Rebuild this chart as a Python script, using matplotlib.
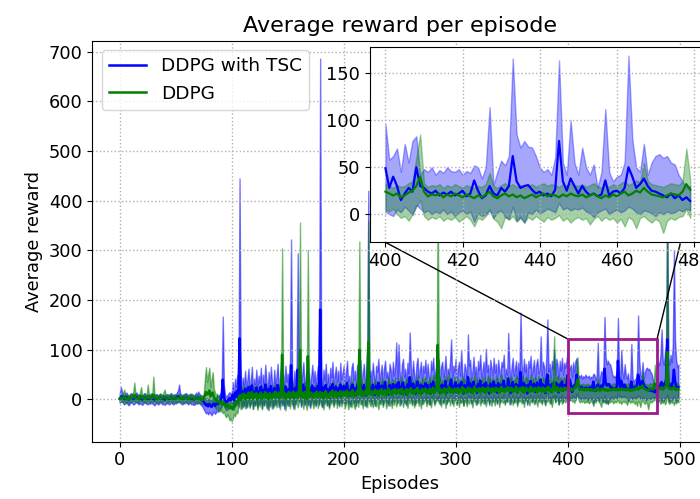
"""Average reward per episode, DDPG with and without TSC, with a zoomed inset."""

import matplotlib

matplotlib.use("Agg")
import matplotlib.pyplot as plt
import numpy as np
from matplotlib.patches import ConnectionPatch, Rectangle

# per-episode statistics (episodes 0..499)
blue_mean = [
    2, 4, 6, 3, 1, 3, 5, 2, 0, 2, 4, 3, 1, 2, 4, 5, 2, 1, 3, 2, 0, 2, 4, 3, 2,
    1, 3, 2, 4, 2, 1, 0, 2, 3, 1, 2, 4, 3, 1, 2, 0, 1, 3, 2, 1, 2, 4, 2, 1, 3,
    2, 4, 6, 5, 3, 2, 1, 3, 2, 4, 3, 1, 2, 3, 1, 2, 0, 1, 3, 2, 4, 2, 1, 0, -2,
    -5, -8, -12, -10, -14, -9, -12, -15, -11, -8, -13, -10, -6, -9, -4, -2, 5, 40, 8, -3, -6, -4, 0, 3, -2,
    2, 10, -2, 14, 6, 18, 4, 123, 20, 3, 16, 8, 22, 5, 14, 25, 7, 12, 28, 4, 15, 9, 24, 6, 17,
    11, 26, 5, 19, 9, 30, 13, 4, 21, 8, 27, 12, 6, 23, 10, 17, 29, 7, 14, 24, 9, 18, 5, 26, 12,
    20, 8, 25, 69, 15, 5, 22, 11, 28, 60, 16, 24, 7, 19, 30, 10, 14, 26, 9, 21, 6, 17, 28, 12, 23,
    8, 19, 27, 11, 181, 15, 6, 24, 13, 29, 10, 20, 7, 25, 16, 31, 9, 18, 26, 12, 22, 8, 30, 14, 19,
    27, 10, 21, 33, 12, 18, 8, 25, 30, 14, 22, 9, 28, 16, 24, 32, 11, 20, 29, 13, 8, 26, 100, 17, 23,
    12, 30, 19, 9, 27, 22, 34, 14, 20, 28, 11, 25, 35, 16, 21, 10, 29, 24, 13, 31, 18, 26, 30, 15, 35,
    22, 12, 28, 34, 17, 24, 10, 30, 20, 45, 26, 14, 32, 19, 11, 28, 36, 16, 23, 30, 13, 27, 21, 33, 15,
    29, 18, 12, 31, 24, 36, 15, 22, 28, 19, 33, 13, 26, 30, 17, 23, 37, 14, 25, 20, 31, 40, 16, 27, 22,
    34, 14, 25, 30, 18, 35, 21, 12, 29, 24, 16, 45, 27, 33, 15, 22, 36, 19, 26, 13, 31, 24, 38, 17, 23,
    30, 15, 34, 21, 27, 12, 32, 25, 18, 36, 20, 28, 14, 33, 23, 17, 30, 26, 38, 16, 24, 19, 42, 28, 13,
    26, 35, 18, 24, 31, 14, 29, 22, 55, 27, 16, 33, 21, 28, 12, 30, 25, 37, 18, 24, 32, 15, 27, 34, 20,
    23, 40, 17, 30, 26, 13, 35, 50, 22, 28, 16, 31, 24, 35, 19, 33, 27, 14, 30, 22, 36, 18, 29, 25, 30,
    49, 28, 40, 30, 15, 22, 28, 24, 50, 30, 28, 24, 22, 25, 20, 23, 21, 24, 20, 22, 25, 19, 22, 36, 25,
    17, 20, 30, 22, 20, 28, 24, 30, 62, 35, 28, 30, 31, 26, 22, 24, 20, 22, 19, 26, 78, 35, 25, 38, 30,
    22, 30, 24, 20, 22, 19, 21, 36, 20, 24, 25, 22, 28, 50, 40, 28, 32, 38, 30, 25, 24, 22, 20, 18, 22,
    17, 20, 15, 18, 14, 22, 26, 24, 28, 35, 30, 26, 32, 40, 121, 28, 24, 30, 26, 35, 60, 38, 26, 22, 25,
]
blue_high = [
    12, 25, 16, 10, 8, 12, 14, 9, 8, 10, 13, 11, 8, 9, 12, 14, 10, 8, 11, 9, 7, 10, 13, 11, 9,
    8, 11, 9, 12, 10, 8, 7, 10, 11, 8, 9, 12, 10, 8, 9, 7, 9, 11, 10, 8, 10, 13, 9, 8, 11,
    10, 14, 18, 30, 12, 9, 8, 11, 10, 13, 11, 8, 10, 12, 9, 10, 8, 9, 14, 10, 16, 12, 9, 8, 6,
    4, 2, 0, 3, -2, 2, 0, -3, 1, 4, 0, 3, 8, 5, 10, 12, 20, 167, 30, 10, 6, 8, 12, 15, 10,
    14, 35, 10, 42, 25, 50, 20, 445, 55, 18, 44, 28, 58, 22, 40, 62, 25, 36, 66, 20, 42, 30, 60, 24, 48,
    32, 64, 22, 50, 30, 70, 38, 18, 56, 28, 66, 34, 24, 60, 30, 46, 72, 26, 42, 62, 30, 50, 20, 68, 36,
    52, 28, 62, 322, 44, 20, 58, 34, 70, 294, 46, 60, 25, 50, 75, 32, 40, 64, 30, 54, 22, 46, 70, 34, 58,
    28, 50, 68, 32, 686, 42, 22, 60, 38, 72, 30, 52, 26, 64, 44, 76, 30, 48, 66, 36, 58, 28, 74, 40, 52,
    68, 32, 54, 78, 36, 48, 28, 64, 74, 40, 58, 30, 70, 44, 62, 80, 34, 52, 72, 38, 28, 66, 420, 46, 58,
    36, 74, 50, 30, 68, 56, 82, 40, 52, 70, 34, 62, 78, 44, 56, 32, 72, 60, 38, 76, 48, 66, 115, 42, 111,
    56, 36, 70, 82, 46, 62, 32, 74, 52, 135, 66, 40, 78, 50, 34, 70, 84, 44, 58, 76, 38, 68, 54, 80, 42,
    72, 48, 34, 78, 60, 84, 42, 56, 70, 50, 80, 38, 66, 76, 46, 60, 88, 40, 62, 52, 76, 121, 44, 68, 56,
    82, 40, 62, 76, 48, 100, 54, 34, 72, 60, 44, 131, 68, 80, 42, 56, 86, 50, 66, 38, 78, 60, 90, 46, 58,
    76, 42, 102, 56, 70, 36, 80, 64, 48, 84, 54, 72, 40, 80, 60, 46, 76, 66, 90, 44, 62, 50, 134, 70, 38,
    66, 84, 48, 62, 78, 42, 74, 56, 175, 70, 44, 82, 56, 72, 36, 78, 64, 88, 48, 62, 80, 42, 70, 82, 52,
    60, 127, 48, 76, 66, 38, 86, 161, 56, 72, 44, 78, 62, 100, 50, 82, 70, 42, 78, 58, 84, 50, 74, 64, 78,
    96, 58, 62, 70, 45, 75, 55, 78, 83, 42, 48, 45, 50, 42, 47, 44, 50, 46, 45, 48, 42, 46, 44, 52, 50,
    38, 50, 114, 31, 45, 57, 52, 62, 166, 85, 71, 78, 72, 71, 62, 50, 45, 48, 42, 60, 164, 55, 42, 100, 55,
    42, 71, 50, 42, 53, 28, 45, 112, 45, 35, 40, 42, 55, 169, 80, 50, 45, 75, 42, 55, 62, 64, 60, 62, 55,
    53, 42, 35, 28, 30, 60, 75, 70, 90, 141, 80, 70, 95, 110, 400, 85, 70, 90, 75, 110, 300, 120, 80, 65, 70,
]
blue_low = [
    -6, -4, -3, -8, -10, -7, -5, -9, -12, -8, -6, -7, -10, -9, -6, -5, -8, -10, -7, -9, -11, -8, -6, -7, -9,
    -10, -7, -9, -6, -8, -10, -12, -8, -7, -10, -9, -6, -7, -10, -8, -11, -9, -7, -8, -10, -8, -6, -9, -10, -7,
    -8, -6, -4, -5, -7, -9, -10, -7, -8, -6, -7, -10, -8, -7, -10, -9, -11, -10, -7, -9, -6, -8, -10, -12, -15,
    -20, -24, -28, -26, -30, -25, -28, -32, -27, -24, -29, -26, -22, -25, -20, -18, -14, -8, -12, -18, -22, -20, -16, -13, -18,
    -14, -4, -20, -2, -12, 0, -16, -2, 2, -18, -3, -13, 1, -17, -6, 3, -14, -8, 4, -19, -5, -11, 2, -16, -3,
    -9, 3, -18, -1, -12, 5, -7, -20, -2, -14, 4, -8, -17, 0, -11, -4, 6, -15, -7, 2, -12, -2, -19, 4, -9,
    -1, -13, 3, 0, -5, -18, 0, -10, 5, 2, -4, 1, -15, -2, 7, -11, -6, 3, -12, -1, -17, -5, 6, -9, 0,
    -14, -3, 5, -10, 3, -6, -16, 2, -8, 6, -11, -1, -15, 3, -5, 7, -12, -3, 4, -9, 0, -14, 6, -7, -2,
    5, -11, -1, 8, -9, -3, -14, 2, 7, -8, 0, -13, 5, -6, 1, 9, -10, -2, 6, -7, -14, 3, 2, -4, 0,
    -9, 7, -3, -13, 4, 0, 9, -8, -2, 6, -11, 2, 10, -6, -1, -12, 6, 1, -9, 8, -4, 3, 5, -7, 8,
    0, -10, 4, 9, -5, 1, -12, 6, -2, 8, 3, -8, 7, -4, -11, 5, 10, -6, 0, 7, -9, 4, -2, 8, -7,
    6, -4, -11, 7, 1, 10, -8, -1, 5, -3, 8, -10, 3, 6, -6, 0, 11, -9, 2, -2, 7, 9, -7, 4, -1,
    9, -9, 2, 6, -5, 8, -1, -12, 5, 1, -7, 10, 3, 8, -8, -1, 10, -4, 3, -10, 7, 0, 11, -6, 0,
    6, -8, 9, -2, 4, -11, 7, 1, -5, 10, -3, 5, -9, 8, 0, -6, 6, 2, 11, -7, 1, -4, 12, 4, -10,
    3, 9, -6, 1, 7, -9, 5, -2, 12, 4, -7, 8, -2, 5, -11, 6, 2, 10, -6, 1, 8, -8, 4, 9, -3,
    0, 12, -7, 6, 3, -10, 9, 14, -1, 5, -8, 7, 1, 9, -5, 8, 4, -9, 6, -2, 10, -6, 5, 2, 6,
    3, 0, -2, 5, 2, 8, 4, -1, 10, 6, 2, 4, 0, 3, 1, 5, 0, 3, -2, 2, 4, 0, 3, -8, 1,
    -2, 0, 5, -4, 2, 4, -3, -5, 8, -7, -3, -9, 2, 0, 5, 1, 3, 6, 4, 2, 12, 5, 7, 4, 6,
    5, 7, 3, 1, -3, 2, 4, 6, 0, 3, 5, 2, 4, 8, 6, 2, 0, 4, 3, 1, -2, 2, 0, 3, 1,
    2, 5, 3, 6, 4, 2, -2, 0, 3, -4, 1, -3, 2, 5, 8, 0, -5, 2, -2, 3, 6, 0, -4, -2, 1,
]

green_mean = [
    1, 3, 2, 4, 6, 2, 0, 3, 1, 2, 4, 3, 5, 9, 4, 2, 3, 1, 5, 7, 3, 2, 4, 1, 3,
    6, 3, 2, 4, 3, 10, 4, 2, 3, 1, 2, 4, 3, 2, 5, 6, 3, 1, 2, 3, 4, 2, 1, 3, 2,
    1, 3, 2, 4, 2, 3, 1, 2, 4, 3, 2, 1, 3, 2, 4, 3, 2, 1, 2, 3, 1, 2, 0, 1, -1,
    2, 8, 15, 10, 12, 18, 6, 10, 14, 5, 2, -4, 0, -6, -3, -8, -5, -10, -6, -12, -15, -10, -13, -18, -14,
    -16, -20, -10, -14, -4, -8, 2, 8, -2, 10, 4, 12, 0, 9, 3, 14, 2, 8, 15, 1, 11, 5, 13, 0, 9,
    4, 14, 1, 10, 6, 15, 3, 11, 0, 13, 7, 2, 12, 5, 16, 4, 9, 14, 2, 10, 90, 6, 13, 1, 11,
    5, 15, 3, 12, 7, 16, 2, 10, 14, 4, 11, 100, 6, 13, 3, 15, 8, 1, 87, 12, 5, 14, 9, 3, 13,
    7, 16, 4, 11, 15, 5, 13, 2, 12, 17, 6, 10, 3, 14, 8, 18, 5, 11, 16, 4, 13, 9, 17, 6, 12,
    16, 7, 13, 18, 5, 12, 15, 8, 19, 10, 6, 14, 17, 9, 100, 12, 18, 7, 15, 11, 20, 8, 115, 14, 10,
    17, 9, 14, 20, 11, 16, 7, 18, 13, 21, 10, 15, 19, 8, 14, 22, 12, 17, 9, 19, 13, 21, 11, 16, 20,
    12, 18, 22, 10, 17, 14, 21, 9, 19, 15, 23, 12, 18, 11, 20, 16, 24, 13, 17, 10, 21, 15, 19, 22, 12,
    18, 14, 22, 11, 19, 24, 13, 17, 20, 110, 15, 22, 12, 19, 16, 23, 11, 20, 18, 25, 14, 21, 17, 13, 22,
    19, 15, 23, 12, 20, 17, 25, 14, 21, 18, 13, 24, 16, 22, 19, 12, 21, 26, 15, 20, 17, 23, 14, 19, 24,
    16, 22, 13, 20, 25, 17, 21, 14, 23, 19, 15, 24, 18, 21, 13, 22, 26, 17, 20, 15, 23, 19, 25, 16, 21,
    24, 15, 20, 18, 26, 14, 22, 19, 23, 17, 25, 13, 21, 24, 18, 20, 15, 26, 19, 22, 16, 23, 20, 14, 25,
    18, 22, 16, 24, 20, 15, 23, 19, 26, 17, 21, 14, 24, 35, 18, 22, 25, 16, 20, 23, 17, 21, 24, 19, 22,
    24, 22, 20, 22, 18, 20, 23, 25, 30, 40, 24, 19, 21, 20, 22, 18, 21, 19, 22, 20, 18, 21, 19, 17, 20,
    18, 21, 24, 19, 17, 20, 22, 19, 21, 18, 20, 17, 19, 21, 18, 20, 22, 19, 21, 20, 18, 21, 19, 22, 20,
    19, 21, 18, 20, 22, 19, 17, 20, 18, 21, 19, 22, 24, 20, 22, 25, 23, 28, 24, 21, 20, 19, 18, 20, 22,
    21, 20, 24, 32, 26, 22, 20, 24, 21, 23, 20, 22, 25, 28, 95, 24, 21, 23, 20, 22, 25, 21, 19, 22, 20,
]
green_high = [
    8, 10, 9, 12, 20, 9, 7, 10, 8, 9, 12, 10, 14, 34, 12, 9, 10, 8, 14, 25, 10, 9, 12, 8, 10,
    30, 10, 9, 12, 10, 46, 12, 9, 10, 8, 9, 12, 10, 9, 14, 20, 10, 8, 9, 10, 12, 9, 8, 10, 9,
    8, 10, 9, 12, 9, 10, 8, 9, 12, 10, 9, 8, 10, 9, 12, 10, 9, 8, 9, 10, 8, 9, 7, 8, 6,
    12, 40, 65, 35, 50, 64, 25, 40, 55, 22, 15, 8, 12, 5, 8, 2, 5, 0, 4, -2, -5, 0, -3, -8, -4,
    -6, -8, 2, -2, 8, 4, 14, 22, 10, 25, 16, 28, 12, 24, 15, 30, 14, 22, 32, 12, 26, 18, 30, 12, 24,
    16, 30, 12, 25, 18, 32, 15, 26, 12, 30, 20, 14, 28, 17, 34, 16, 24, 30, 14, 26, 304, 18, 30, 13, 27,
    17, 32, 15, 28, 20, 34, 14, 26, 31, 16, 27, 356, 18, 30, 15, 33, 21, 13, 301, 28, 17, 31, 23, 15, 30,
    20, 34, 16, 27, 33, 17, 30, 14, 28, 36, 18, 26, 15, 32, 21, 38, 17, 27, 35, 16, 30, 22, 37, 18, 28,
    35, 20, 30, 38, 17, 29, 34, 21, 40, 24, 18, 32, 37, 22, 318, 28, 39, 20, 34, 26, 42, 21, 360, 31, 24,
    36, 22, 31, 42, 25, 35, 19, 38, 29, 44, 24, 33, 40, 21, 31, 46, 27, 37, 22, 40, 29, 45, 25, 35, 42,
    27, 38, 46, 24, 36, 31, 45, 22, 40, 33, 48, 27, 38, 25, 42, 35, 50, 29, 37, 24, 44, 33, 40, 46, 27,
    38, 31, 46, 25, 40, 50, 29, 36, 42, 420, 33, 46, 27, 40, 35, 48, 25, 42, 38, 52, 31, 44, 36, 29, 46,
    38, 30, 44, 26, 40, 34, 48, 28, 42, 36, 27, 46, 32, 43, 38, 25, 42, 50, 30, 40, 34, 45, 28, 38, 46,
    32, 43, 27, 40, 48, 34, 42, 28, 45, 38, 30, 46, 35, 42, 26, 44, 50, 34, 40, 30, 45, 38, 48, 32, 42,
    46, 30, 40, 36, 50, 28, 44, 38, 45, 34, 48, 26, 42, 46, 36, 40, 30, 50, 38, 44, 32, 45, 40, 28, 48,
    36, 44, 32, 46, 40, 30, 45, 38, 50, 34, 42, 28, 46, 127, 36, 44, 48, 32, 40, 45, 34, 42, 46, 38, 44,
    32, 30, 28, 31, 29, 30, 33, 35, 60, 85, 33, 29, 31, 30, 32, 28, 31, 29, 32, 30, 28, 31, 29, 28, 30,
    29, 32, 44, 30, 28, 31, 33, 30, 32, 29, 31, 28, 30, 32, 29, 31, 33, 30, 32, 31, 29, 32, 30, 33, 31,
    30, 32, 29, 31, 33, 30, 28, 31, 29, 32, 30, 33, 35, 31, 33, 36, 34, 55, 35, 32, 31, 30, 29, 31, 33,
    32, 31, 35, 70, 38, 34, 31, 36, 33, 35, 31, 34, 38, 42, 380, 36, 33, 35, 31, 34, 38, 33, 30, 34, 31,
]
green_low = [
    -6, -4, -5, -3, -2, -6, -8, -4, -7, -5, -3, -4, -2, -3, -4, -6, -5, -7, -3, -2, -4, -6, -3, -7, -5,
    -2, -4, -6, -3, -5, -4, -3, -6, -4, -7, -6, -3, -4, -6, -3, -2, -4, -7, -6, -4, -3, -5, -7, -4, -6,
    -7, -4, -6, -3, -5, -4, -7, -6, -3, -4, -6, -7, -4, -6, -3, -4, -6, -8, -5, -4, -7, -5, -8, -9, -10,
    -8, -10, -6, -12, -8, -4, -14, -10, -6, -12, -16, -20, -14, -22, -18, -25, -20, -28, -24, -32, -36, -30, -34, -42, -38,
    -44, -38, -30, -34, -24, -28, -14, -8, -20, -6, -16, -4, -18, -7, -15, -2, -17, -9, 0, -19, -5, -13, -1, -21, -8,
    -14, 0, -20, -6, -12, 1, -17, -5, -22, -3, -10, -19, -2, -14, 3, -16, -7, -1, -20, -6, 8, -11, -1, -22, -7,
    -13, 2, -18, -3, -10, 3, -20, -6, -1, -16, -5, 5, -12, -2, -19, 0, -9, -21, 6, -4, -15, 1, -8, -18, -2,
    -11, 2, -17, -6, 1, -14, -3, -20, -5, 3, -13, -7, -19, 0, -10, 4, -15, -6, 2, -17, -4, -11, 4, -14, -5,
    -6, -18, -9, -2, -20, -11, -5, -16, -1, -13, -19, -7, -3, -15, 2, -10, -1, -18, -6, -13, 0, -16, 4, -8, -14,
    -4, -16, -8, 0, -14, -5, -20, -3, -10, 1, -15, -6, -1, -18, -8, 2, -13, -4, -17, -1, -11, 0, -14, -6, -1,
    -13, -3, 1, -15, -4, -9, 0, -17, -2, -8, 2, -12, -4, -16, -1, -7, 2, -13, -5, -18, -1, -9, -3, 1, -14,
    -3, -10, 0, -16, -2, 2, -12, -6, -1, 6, -8, 0, -14, -3, -8, 1, -17, -2, -5, 3, -12, -1, -7, -13, 0,
    -4, -11, 1, -15, -2, -7, 2, -13, -1, -5, -14, 0, -9, -1, -4, -16, -1, 3, -11, -3, -7, 0, -12, -4, 1,
    -9, 0, -14, -3, 2, -8, -1, -13, 0, -4, -12, 1, -6, -1, -15, 0, 3, -7, -3, -11, 0, -5, 2, -10, -2,
    1, -11, -3, -6, 3, -14, -1, -5, 0, -8, 2, -15, -2, 1, -7, -3, -12, 3, -4, -1, -10, 0, -3, -14, 2,
    -6, -1, -10, 0, -3, -12, -1, -5, 3, -9, -2, -15, 0, 10, -6, -1, 1, -11, -4, 0, -9, -2, 0, -6, -1,
    5, 3, 6, 0, -4, -2, -7, 0, 8, 15, -2, -6, -3, -5, -2, -7, -4, -6, -3, -8, -5, -2, -6, -13, -4,
    -6, -2, 4, -5, -8, -15, -3, -6, -2, -8, -4, -9, -3, -6, -2, -5, -8, -3, -6, -4, -1, -7, -4, -9, -5,
    -3, -6, -4, -11, -5, -2, -7, -3, -6, -4, -9, -5, -13, -3, -6, -15, -4, -2, -6, -9, -5, -8, -20, -7, -4,
    -6, -3, -2, 5, -4, -8, -5, -2, -9, -4, -7, -3, -10, -5, 10, -6, -9, -3, -7, -4, -11, -5, -8, -3, -6,
]

labels = ["DDPG with TSC", "DDPG"]
zoom_start, zoom_stop = 400, 480
zoom_box_y = (-27, 122)


def draw_runs(ax, episodes, sl, alpha, lw):
    ax.fill_between(episodes[sl], np.asarray(blue_low)[sl], np.asarray(blue_high)[sl],
                    color="b", alpha=alpha)
    ax.plot(episodes[sl], np.asarray(blue_mean)[sl], color="b", lw=lw, label=labels[0])
    ax.fill_between(episodes[sl], np.asarray(green_low)[sl], np.asarray(green_high)[sl],
                    color="g", alpha=alpha)
    ax.plot(episodes[sl], np.asarray(green_mean)[sl], color="g", lw=lw, label=labels[1])


def main():
    plt.rcParams["font.size"] = 12.8
    episodes = np.arange(len(blue_mean))

    fig = plt.figure(figsize=(7.0, 4.99), dpi=100)
    ax = fig.add_axes([0.1319, 0.1148, 0.878, 0.8036])
    draw_runs(ax, episodes, slice(None), 0.5, 1.8)
    ax.set_xlim(-24.5, 524.5)
    ax.set_ylim(-85, 722)
    ax.set_xticks([0, 100, 200, 300, 400, 500])
    ax.set_yticks(range(0, 701, 100))
    ax.grid(True, linestyle=":", color="#b0b0b0", lw=1)
    ax.set_xlabel("Episodes")
    ax.set_ylabel("Average reward")
    ax.set_title("Average reward per episode", fontsize=16)
    ax.legend(loc="upper left", fontsize=13.3)

    # zoomed region marker
    ax.add_patch(Rectangle((zoom_start, zoom_box_y[0]), zoom_stop - zoom_start,
                           zoom_box_y[1] - zoom_box_y[0], fill=False,
                           edgecolor="#9c1a8c", lw=2, zorder=5))

    axins = fig.add_axes([0.5286, 0.5144, 0.4794, 0.392])
    draw_runs(axins, episodes, slice(zoom_start, zoom_stop), 0.35, 1.6)
    axins.set_xlim(396, 483)
    axins.set_ylim(-30, 178.5)
    axins.set_xticks([400, 420, 440, 460, 480])
    axins.set_yticks([0, 50, 100, 150])
    axins.grid(True, linestyle=":", color="#b0b0b0", lw=1)

    for xa, xb in [(zoom_start, zoom_start), (zoom_stop, 476.5)]:
        con = ConnectionPatch(xyA=(xa, zoom_box_y[1]), coordsA=ax.transData,
                              xyB=(xb, -30), coordsB=axins.transData,
                              color="k", lw=1)
        ax.add_artist(con)

    fig.savefig("out.png", dpi=100)


if __name__ == "__main__":
    main()
